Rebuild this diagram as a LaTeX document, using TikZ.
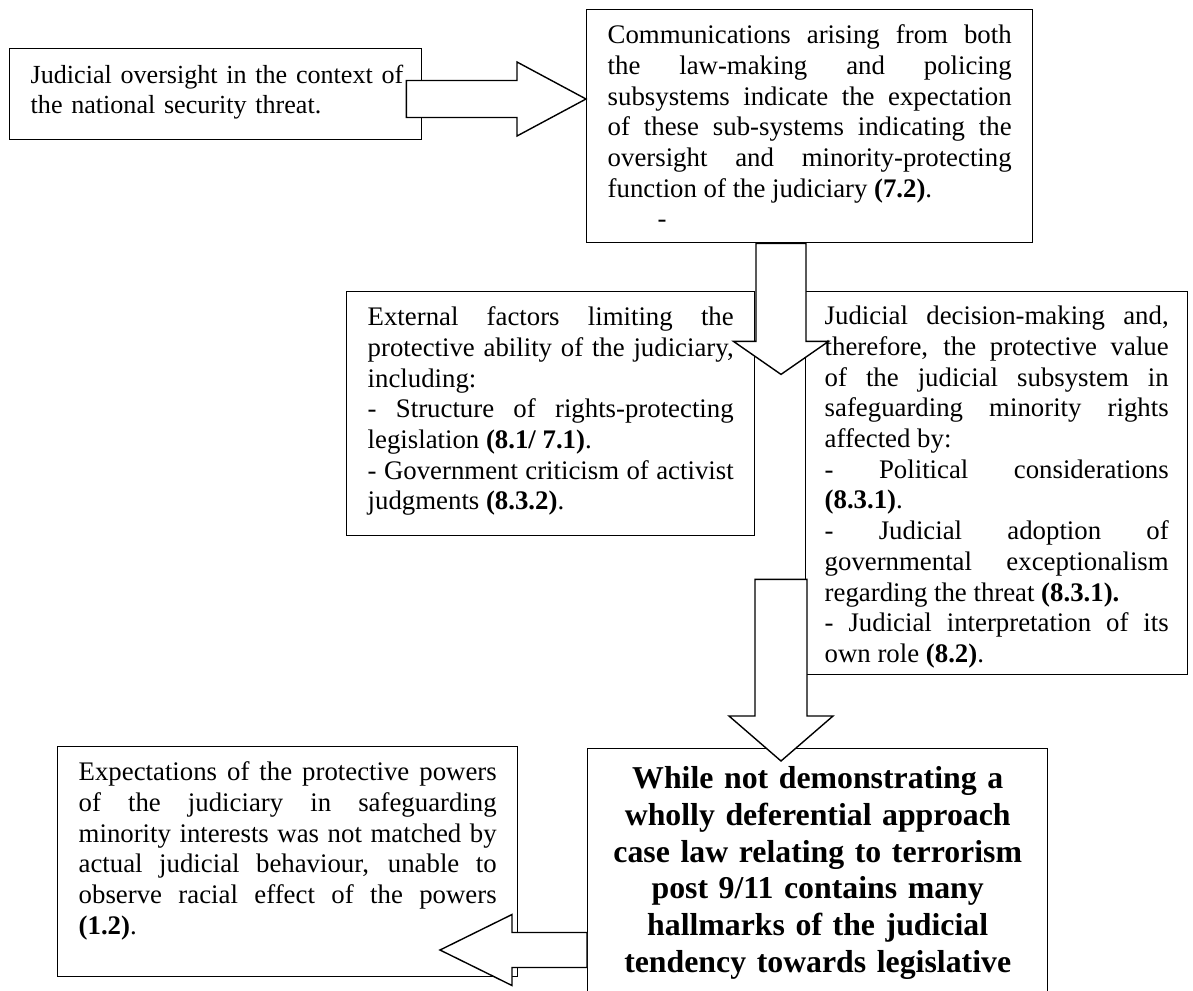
\documentclass[tikz,border=0pt]{standalone}
\usepackage{fontspec}
\setmainfont{Liberation Serif}
\usetikzlibrary{calc}
\hyphenpenalty=10000
\exhyphenpenalty=10000
\hbadness=10000
\hfuzz=20pt

\newcommand{\bodyfont}{\fontsize{26.8}{30.7}\selectfont}
\newcommand{\verdictfont}{\fontsize{31.8}{36.7}\selectfont\bfseries}

% block arrow: tail, tip, shaft half width, head half width, head length
\newcommand{\blockarrow}[5]{%
  \coordinate (ba) at ($(#2)!#5!(#1)$);
  \draw[arrowbody] ($(#1)!#3!90:(#2)$) -- ($(ba)!#3!-90:(#1)$)
    -- ($(ba)!#4!-90:(#1)$) -- (#2) -- ($(ba)!#4!90:(#1)$)
    -- ($(ba)!#3!90:(#1)$) -- ($(#1)!#3!-90:(#2)$) -- cycle;
}

\tikzset{
  txtbox/.style={draw, line width=1.4pt, fill=white, anchor=north west,
    inner ysep=0pt, inner xsep=21pt, align=justify, font=\bodyfont},
  arrowbody/.style={draw, line width=1.4pt, fill=white, line join=miter}
}

\begin{document}
\begin{tikzpicture}[x=1pt, y=-1pt]
            \useasboundingbox (0,0) rectangle (1193,990);
            \clip (0,0) rectangle (1193,990);

            % Judicial oversight
            \node[txtbox, align=left, font=\fontsize{26.1}{30}\selectfont, text width=370pt,
                text height=35pt, text depth=56pt] (oversight) at (9,48)
                {\mbox{Judicial oversight in the context of}\\the national security threat.};

            % Communications
            \node[txtbox, text width=404pt, text height=34pt, text depth=199pt]
                (comm) at (586,9)
                {Communications arising from both\linebreak the law-making and policing\linebreak
                 subsystems indicate the expectation\linebreak of these sub-systems indicating the\linebreak
                 oversight and minority-protecting\linebreak function of the judiciary \textbf{(7.2)}.\par
                 \hspace*{50pt}-};

            % External factors
            \node[txtbox, text width=366pt, text height=34pt, text depth=210pt]
                (limits) at (346,291)
                {External factors limiting the\linebreak protective ability of the judiciary,\linebreak
                 including:\par
                 - Structure of rights-protecting\linebreak legislation \textbf{(8.1/ 7.1)}.\par
                 - Government criticism of activist\linebreak judgments \textbf{(8.3.2)}.};

            % Judicial decision-making
            \node[txtbox, inner xsep=19pt, text width=344pt, text height=33pt, text depth=350pt]
                (decision) at (805,291)
                {Judicial decision-making and,\linebreak therefore, the protective value\linebreak
                 of the judicial subsystem in\linebreak safeguarding minority rights\linebreak
                 affected by:\par
                 - Political considerations\linebreak \textbf{(8.3.1)}.\par
                 - Judicial adoption of\linebreak governmental exceptionalism\linebreak
                 regarding the threat \textbf{(8.3.1).}\par
                 - Judicial interpretation of its\linebreak own role \textbf{(8.2)}.};

            % Expectations
            \node[txtbox, text width=418pt, text height=34pt, text depth=196pt]
                (expect) at (57,746)
                {Expectations of the protective powers\linebreak of the judiciary in safeguarding\linebreak
                 minority interests was not matched by\linebreak actual judicial behaviour, unable to\linebreak
                 observe racial effect of the powers\linebreak \textbf{(1.2)}.};

            % Conclusion
            \node[txtbox, align=center, font=\verdictfont, inner xsep=20pt, text width=420pt,
                text height=40pt, text depth=220pt] (verdict) at (587,748)
                {While not demonstrating a\\ wholly deferential approach\\
                 case law relating to terrorism\\ post 9/11 contains many\\
                 hallmarks of the judicial\\ tendency towards legislative};

            % oversight -> communications
            \coordinate (ovTail) at ($(oversight.north east)+(-16,51)$);
            \coordinate (ovTip) at (ovTail -| comm.west);
            \blockarrow{ovTail}{ovTip}{18.5pt}{37pt}{69pt}

            % communications -> factors
            \coordinate (cmTail) at ($(comm.south west)+(195,0)$);
            \coordinate (cmTip) at ($(cmTail)+(0,131)$);
            \blockarrow{cmTail}{cmTip}{25pt}{47.5pt}{33pt}

            % decision-making -> conclusion
            \coordinate (dcTail) at ($(decision.south west)+(-24,-96)$);
            \coordinate (dcTip) at ($(dcTail |- verdict.north)+(0,13)$);
            \blockarrow{dcTail}{dcTip}{26pt}{52pt}{45pt}

            % conclusion -> expectations
            \coordinate (vdTail) at ($(verdict.north west)+(0,202)$);
            \coordinate (vdTip) at ($(vdTail)+(-147,0)$);
            \blockarrow{vdTail}{vdTip}{17.5pt}{35.5pt}{72pt}
        \end{tikzpicture}
\end{document}
